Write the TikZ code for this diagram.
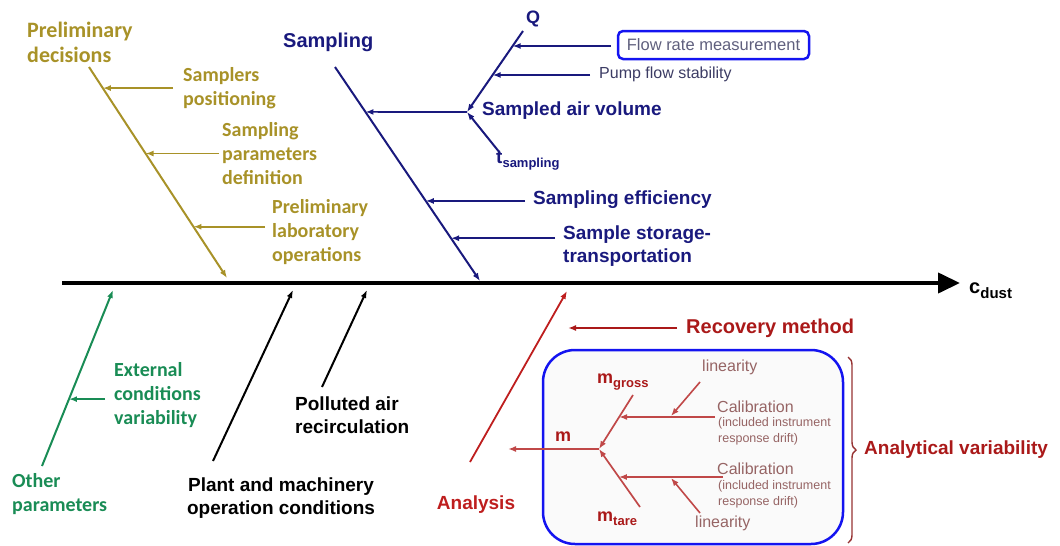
\documentclass[tikz,border=0pt]{standalone}
\usepackage{fontspec}
\setmainfont{Liberation Sans}
\newfontfamily\calib{Carlito}
\usetikzlibrary{arrows.meta,calc,decorations.pathreplacing}
\definecolor{ocre}{RGB}{168,146,40}
\definecolor{navyb}{RGB}{25,25,125}
\definecolor{flowtxt}{RGB}{95,95,125}
\definecolor{pumptxt}{RGB}{60,60,100}
\definecolor{leafgreen}{RGB}{25,140,85}
\definecolor{redline}{RGB}{190,30,30}
\definecolor{redtxt}{RGB}{170,25,25}
\definecolor{softred}{RGB}{192,72,72}
\definecolor{mauve}{RGB}{150,100,100}
\definecolor{boxblue}{RGB}{20,20,240}
\definecolor{bracered}{RGB}{150,50,50}
\begin{document}
\begin{tikzpicture}[x=1pt,y=-1pt,
  lbl/.style={inner sep=0pt,anchor=west,align=left},
  yhead/.style={lbl,text=ocre,font=\calib\bfseries\fontsize{22}{25}\selectfont},
  ylab/.style={lbl,text=ocre,font=\calib\bfseries\fontsize{20}{24}\selectfont},
  glab/.style={lbl,text=leafgreen,font=\calib\bfseries\fontsize{20}{24}\selectfont},
  blab/.style={lbl,text=navyb,font=\bfseries\fontsize{19}{23}\selectfont},
  klab/.style={lbl,text=black,font=\bfseries\fontsize{19}{23}\selectfont},
  rlab/.style={lbl,text=redtxt,font=\bfseries\fontsize{19}{23}\selectfont},
  thin/.style={lbl,font=\fontsize{16}{19}\selectfont},
  note/.style={lbl,text=mauve,font=\fontsize{12.5}{16}\selectfont},
  tip/.style={-{Latex[length=8pt,width=6pt]}},
  bone/.style={tip,line width=2pt},
  rib/.style={tip,line width=1.6pt},
  spine/.style={line width=4pt,-{Triangle[length=22pt,width=20pt]}}
]
\useasboundingbox (0,0) rectangle (1060,546);

% ---- main spine ----
\coordinate (a0) at (62,283);
\coordinate (a1) at (960,283);
\draw[spine] (a0) -- (a1);
\node[lbl,font=\bfseries\fontsize{20}{24}\selectfont] (cdust) at (969,291)
  {c\raisebox{-5pt}{\fontsize{15}{15}\selectfont dust}};

% ---- preliminary decisions ----
\node[yhead] (prelim) at (27,42) {Preliminary\\decisions};
\coordinate (ytop) at (89,67);
\coordinate (ybot) at (227,278);
\draw[bone,ocre] (ytop) -- (ybot);
\path (ytop) -- (ybot) coordinate[pos=0.10] (y1) coordinate[pos=0.41] (y2) coordinate[pos=0.757] (y3);
\node[ylab] (spos) at (183,88) {Samplers\\positioning};
\node[ylab] (sdef) at (222,154) {Sampling\\parameters\\definition};
\node[ylab] (plab) at (272,232) {Preliminary\\laboratory\\operations};
\draw[rib,ocre] ($(y1 -| spos.west)+(-10,0)$) -- (y1);
\draw[rib,ocre] ($(y2 -| sdef.west)+(-3,0)$) -- (y2);
\draw[rib,ocre] ($(y3 -| plab.west)+(-7,0)$) -- (y3);

% ---- sampling ----
\node[blab,font=\bfseries\fontsize{20}{24}\selectfont] (sampling) at (283,42) {Sampling};
\coordinate (stop) at (335,67);
\coordinate (sbot) at (480,281);
\draw[bone,navyb] (stop) -- (sbot);
\path (stop) -- (sbot) coordinate[pos=0.21] (s1) coordinate[pos=0.626] (s2) coordinate[pos=0.80] (s3);
\coordinate (J) at (467,112);
\draw[rib,navyb] (J) -- (s1);
\node[blab] (sav) at (482,111) {Sampled air volume};
\coordinate (qtop) at (523,31);
\coordinate (ttop) at (500,153);
\draw[bone,navyb] (qtop) -- (J);
\draw[bone,navyb] (ttop) -- (J);
\node[blab,anchor=center,font=\bfseries\fontsize{18}{20}\selectfont] (Q) at (533,19) {Q};
\node[blab] (tsamp) at (496,161) {t\raisebox{-4pt}{\fontsize{13}{13}\selectfont sampling}};
\path (qtop) -- (J) coordinate[pos=0.185] (q1) coordinate[pos=0.543] (q2);
\node[draw=boxblue,line width=2.5pt,rounded corners=5pt,minimum width=191pt,minimum height=28pt,
      inner sep=0pt,text=flowtxt,font=\fontsize{16.5}{19}\selectfont] (flow) at (713.5,45) {Flow rate measurement};
\draw[rib,navyb] ($(q1 -| flow.west)+(-6,0)$) -- (q1);
\node[thin,text=pumptxt] (pump) at (599,74) {Pump flow stability};
\draw[rib,navyb] ($(q2 -| pump.west)+(-9,0)$) -- (q2);
\node[blab] (eff) at (533,200) {Sampling efficiency};
\draw[rib,navyb] ($(s2 -| eff.west)+(-8,0)$) -- (s2);
\node[blab] (store) at (563,246) {Sample storage-\\transportation};
\draw[rib,navyb] ($(s3 -| store.west)+(-8,0)$) -- (s3);

% ---- other parameters ----
\coordinate (gbot) at (42,466);
\coordinate (gtop) at (113,290);
\draw[bone,leafgreen] (gbot) -- (gtop);
\path (gbot) -- (gtop) coordinate[pos=0.38] (g1);
\node[glab] (ext) at (114,395) {External\\conditions\\variability};
\draw[rib,leafgreen] ($(g1 -| ext.west)+(-9,0)$) -- (g1);
\node[glab] (other) at (12,494) {Other\\parameters};

% ---- plant and recirculation ----
\coordinate (pbot) at (213,461);
\coordinate (ptop) at (293,290);
\draw[bone,black] (pbot) -- (ptop);
\node[klab,anchor=center,align=center] (plant) at (281,498) {Plant and machinery\\operation conditions};
\coordinate (rbot) at (322,387);
\coordinate (rtop) at (367,290);
\draw[bone,black] (rbot) -- (rtop);
\node[klab] (poll) at (295,415) {Polluted air\\recirculation};

% ---- analysis ----
\coordinate (abot) at (470,462);
\coordinate (atop) at (567,291);
\draw[bone,redline,line width=1.8pt] (abot) -- (atop);
\node[rlab,anchor=center,text=redline] (anal) at (476,505) {Analysis};
\node[rlab,font=\bfseries\fontsize{20}{24}\selectfont] (rec) at (686,328) {Recovery method};
\coordinate (rtip) at (568,328);
\draw[rib,redtxt] ($(rec.west)+(-9,0)$) -- (rtip);

\node[draw=boxblue,line width=2.5pt,rounded corners=32pt,fill=black!2,
      minimum width=300pt,minimum height=194pt] (abox) at (693,447) {};
\draw[bracered,line width=1.4pt,decorate,decoration={brace,amplitude=8pt}] (848,357) -- (848,543);
\node[rlab] (avar) at (864,450) {Analytical variability};

% ---- mass branches ----
\coordinate (J2) at (599,449);
\coordinate (mgt) at (633,395);
\coordinate (mtb) at (640,507);
\coordinate (mtip) at (508,449);
\draw[rib,softred,line width=1.7pt] (mgt) -- (J2);
\draw[rib,softred,line width=1.7pt] (mtb) -- (J2);
\draw[rib,softred] (J2) -- (mtip);
\node[rlab,anchor=center,font=\bfseries\fontsize{18}{20}\selectfont] (m) at (563,437) {m};
\node[rlab,font=\bfseries\fontsize{18}{20}\selectfont] (mg) at (597,382)
  {m\raisebox{-4pt}{\fontsize{13}{13}\selectfont gross}};
\node[rlab,font=\bfseries\fontsize{18}{20}\selectfont] (mt) at (597,519)
  {m\raisebox{-4pt}{\fontsize{13}{13}\selectfont tare}};
\path (mgt) -- (J2) coordinate[pos=0.41] (c1);
\path (mtb) -- (J2) coordinate[pos=0.517] (c2);

\node[thin,text=mauve] (cal1) at (717,407) {Calibration};
\node[note] (inc1) at (718,431) {(included instrument\\response drift)};
\node[thin,text=mauve] (cal2) at (717,469) {Calibration};
\node[note] (inc2) at (718,494) {(included instrument\\response drift)};
\node[thin,text=mauve] (lin1) at (702,367) {linearity};
\node[thin,text=mauve] (lin2) at (695,523) {linearity};

\coordinate (c1s) at (715,417);
\coordinate (c2s) at (723,477);
\draw[rib,softred] (c1s) -- (c1 |- c1s);
\draw[rib,softred] (c2s) -- (c2 |- c2s);
\coordinate (l1s) at (700,382);
\coordinate (l1t) at (671,416);
\coordinate (l2s) at (700,513);
\coordinate (l2t) at (671,478);
\draw[rib,softred] (l1s) -- (l1t);
\draw[rib,softred] (l2s) -- (l2t);
\end{tikzpicture}
\end{document}
